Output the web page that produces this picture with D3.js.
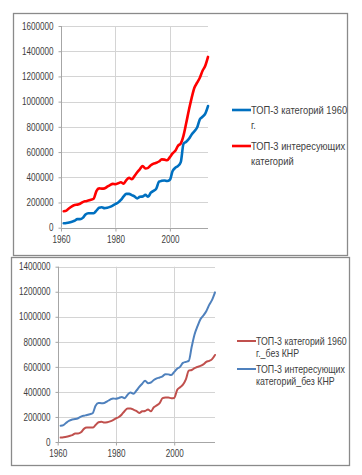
<!DOCTYPE html>
<html>
<head>
<meta charset="utf-8">
<script src="https://cdn.jsdelivr.net/npm/d3@7"></script>
<style>
  body { margin: 0; background: #fff; }
  svg { display: block; }
  text { font-family: "Liberation Sans", Arial, sans-serif; fill: #404040; }
</style>
</head>
<body>
<svg id="chart" width="362" height="475"></svg>
<script>
// years 1961..2014
const years = d3.range(1961, 2015);

// top chart (thousands)
const top1960 = [35, 38, 42, 48, 55, 68, 68, 78, 105, 115, 115, 115, 135, 158, 162, 155, 158, 165, 175, 188,
  200, 220, 248, 268, 268, 258, 248, 232, 245, 248, 260, 245, 278, 292, 310, 365, 372, 375, 370, 380,
  450, 475, 490, 520, 665, 682, 705, 740, 765, 795, 860, 880, 905, 965];
const topInterest = [130, 135, 155, 170, 180, 183, 190, 203, 210, 215, 222, 230, 290, 312, 310, 312, 325, 338, 348, 345,
  352, 360, 350, 378, 395, 385, 410, 440, 465, 490, 470, 475, 495, 508, 515, 525, 542, 540, 535, 560,
  590, 610, 650, 668, 730, 830, 935, 1030, 1110, 1150, 1190, 1245, 1285, 1355];

// bottom chart, without China (thousands)
const bot1960 = [35, 38, 42, 48, 55, 68, 68, 78, 105, 115, 115, 115, 135, 158, 162, 155, 158, 165, 175, 188,
  200, 220, 248, 268, 268, 258, 248, 232, 245, 248, 260, 245, 278, 292, 310, 350, 355, 355, 350, 352,
  415, 437, 458, 500, 570, 575, 590, 600, 608, 620, 640, 648, 662, 695];
const botInterest = [130, 135, 155, 170, 180, 183, 190, 203, 210, 215, 222, 230, 290, 312, 310, 312, 325, 338, 348, 345,
  352, 360, 350, 378, 395, 385, 410, 440, 465, 490, 470, 475, 495, 508, 515, 525, 542, 540, 535, 560,
  585, 600, 632, 640, 648, 760, 860, 925, 980, 1010, 1045, 1095, 1135, 1195];

const topTicksY = d3.range(0, 1600001, 200000);
const botTicksY = d3.range(0, 1400001, 200000);
const ticksX = [1960, 1980, 2000];

const topLegend = [["ТОП-3 категорий 1960", "г."], ["ТОП-3 интересующих", "категорий"]];
const botLegend = [["ТОП-3 категорий 1960", "г._без КНР"], ["ТОП-3 интересующих", "категорий_без КНР"]];

const svg = d3.select("#chart");

// squeeze text horizontally, the original font is a narrow one
function narrow(sel, k) {
  sel.each(function() {
    const len = this.getComputedTextLength();
    d3.select(this).attr("textLength", len * k).attr("lengthAdjust", "spacingAndGlyphs");
  });
}

// frames
svg.append("rect").attr("x", 13.5).attr("y", 13.5).attr("width", 334).attr("height", 242)
  .attr("fill", "#fff").attr("stroke", "#8a8a8a").attr("stroke-width", 1.3);
svg.append("rect").attr("x", 11.5).attr("y", 257.5).attr("width", 338).attr("height", 208)
  .attr("fill", "#fff").attr("stroke", "#8a8a8a").attr("stroke-width", 1.3);

function drawChart(cfg) {
  const x = d3.scaleLinear().domain([1960, 2014]).range([cfg.left, cfg.right]);
  const y = d3.scaleLinear().domain([0, cfg.ymax]).range([cfg.bottom, cfg.top]);
  const g = svg.append("g");

  // horizontal gridlines
  g.selectAll(".hg").data(cfg.ticksY.slice(1)).enter().append("line")
    .attr("x1", cfg.left).attr("x2", cfg.right)
    .attr("y1", d => Math.round(y(d)) + 0.5).attr("y2", d => Math.round(y(d)) + 0.5)
    .attr("stroke", "#d4d4d4").attr("stroke-width", 1);
  // vertical gridlines
  g.selectAll(".vg").data(ticksX.slice(1)).enter().append("line")
    .attr("x1", d => Math.round(x(d)) + 0.5).attr("x2", d => Math.round(x(d)) + 0.5)
    .attr("y1", cfg.top).attr("y2", cfg.bottom)
    .attr("stroke", "#d4d4d4").attr("stroke-width", 1);

  // axes
  const yAxis = d3.axisLeft(y).tickValues(cfg.ticksY).tickSize(3).tickPadding(5).tickFormat(d3.format("d"));
  const xAxis = d3.axisBottom(x).tickValues(ticksX).tickSize(3).tickPadding(4).tickFormat(d3.format("d"));
  const ya = g.append("g").attr("transform", `translate(${Math.round(cfg.left) + 0.5},0)`).call(yAxis);
  const xa = g.append("g").attr("transform", `translate(0,${Math.round(cfg.bottom) + 0.5})`).call(xAxis);
  [ya, xa].forEach(a => {
    a.select(".domain").attr("stroke", "#a6a6a6");
    a.selectAll(".tick line").attr("stroke", "#a6a6a6");
    a.selectAll("text").attr("font-size", 10).attr("fill", "#404040")
      .style("font-family", '"Liberation Sans", Arial, sans-serif');
    narrow(a.selectAll("text"), 0.81);
  });
  xa.select(".domain").attr("d", `M${cfg.left},0H${cfg.right}`);
  ya.select(".domain").attr("d", `M0,${cfg.bottom}V${cfg.top}`);

  const line = d3.line().x((d, i) => x(years[i])).y(d => y(d * 1000)).curve(d3.curveMonotoneX);
  cfg.series.forEach(s => {
    g.append("path").datum(s.values).attr("d", line)
      .attr("fill", "none").attr("stroke", s.color).attr("stroke-width", cfg.lw)
      .attr("stroke-linejoin", "round").attr("stroke-linecap", "round");
  });

  // legend, text scaled horizontally via transform
  cfg.series.forEach((s, i) => {
    const ly = cfg.legendY[i];
    g.append("line").attr("x1", cfg.legendX).attr("x2", cfg.legendX + 19)
      .attr("y1", ly).attr("y2", ly).attr("stroke", s.color).attr("stroke-width", cfg.lw);
    cfg.legend[i].forEach((str, k) => {
      g.append("text")
        .attr("transform", `translate(${cfg.legendX + 19},${ly + 3.8 + k * cfg.legendLh}) scale(${cfg.squeeze},1)`)
        .attr("font-size", cfg.legendFont).attr("fill", "#404040").text(str);
    });
  });
}

drawChart({
  left: 61, right: 208, top: 26, bottom: 227.7, ymax: 1600000, ticksY: topTicksY, lw: 2.6,
  series: [{ values: top1960, color: "#0070c0" }, { values: topInterest, color: "#ff0000" }],
  legend: topLegend, legendX: 232, legendY: [110, 146], legendFont: 11, legendLh: 15, squeeze: 0.85
});

drawChart({
  left: 57.7, right: 215, top: 266.7, bottom: 442, ymax: 1400000, ticksY: botTicksY, lw: 2,
  series: [{ values: bot1960, color: "#c0504d" }, { values: botInterest, color: "#4f81bd" }],
  legend: botLegend, legendX: 237, legendY: [341, 369], legendFont: 10.5, legendLh: 12.5, squeeze: 0.84
});
</script>
</body>
</html>
